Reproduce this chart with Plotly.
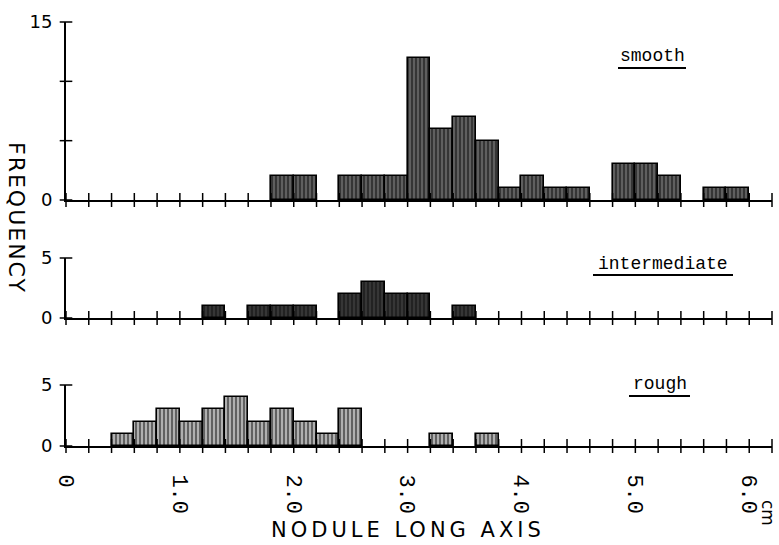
import plotly.graph_objects as go

# ---------------- data (bin left edges in cm, counts) ----------------
BIN_WIDTH = 0.2
smooth_left = [1.8, 2.0, 2.4, 2.6, 2.8, 3.0, 3.2, 3.4, 3.6, 3.8, 4.0, 4.2, 4.4, 4.8, 5.0, 5.2, 5.6, 5.8]
smooth_count = [2, 2, 2, 2, 2, 12, 6, 7, 5, 1, 2, 1, 1, 3, 3, 2, 1, 1]
inter_left = [1.2, 1.6, 1.8, 2.0, 2.4, 2.6, 2.8, 3.0, 3.4]
inter_count = [1, 1, 1, 1, 2, 3, 2, 2, 1]
rough_left = [0.4, 0.6, 0.8, 1.0, 1.2, 1.4, 1.6, 1.8, 2.0, 2.2, 2.4, 3.2, 3.6]
rough_count = [1, 2, 3, 2, 3, 4, 2, 3, 2, 1, 3, 1, 1]

x_label_vals = [0, 1, 2, 3, 4, 5, 6]
x_label_text = ["0", "1.0", "2.0", "3.0", "4.0", "5.0", "6.0"]
x_minor_ticks = [round(0.2 * i, 1) for i in range(0, 32)]
top_y_ticks = [0, 5, 10, 15]
small_y_ticks = [0, 5]

W, H = 779, 545
MONO = "Liberation Mono"
SANS = "DejaVu Sans"

fig = go.Figure()

panels = [
    ("x", "y", smooth_left, smooth_count, 0.6, "#6a6a6a", top_y_ticks),
    ("x2", "y2", inter_left, inter_count, 0.7, "#444444", small_y_ticks),
    ("x3", "y3", rough_left, rough_count, 0.45, "#b0b0b0", small_y_ticks),
]

for xa, ya, left, cnt, sol, bg, yt in panels:
    fig.add_trace(go.Bar(
        x=left, y=cnt, width=BIN_WIDTH, offset=0,
        xaxis=xa, yaxis=ya,
        marker=dict(color="white",
                    line=dict(color="black", width=1.6),
                    pattern=dict(shape="|", fgcolor="black", bgcolor=bg,
                                 size=4, solidity=sol)),
        showlegend=False, hoverinfo="skip",
    ))
    # crossing tick marks on the x axis
    fig.add_trace(go.Scatter(
        x=x_minor_ticks, y=[0] * len(x_minor_ticks), xaxis=xa, yaxis=ya,
        mode="markers", cliponaxis=False,
        marker=dict(symbol="line-ns", size=10, line=dict(color="black", width=1.5)),
        showlegend=False, hoverinfo="skip",
    ))
    # crossing tick marks on the y axis
    fig.add_trace(go.Scatter(
        x=[0] * len(yt), y=yt, xaxis=xa, yaxis=ya,
        mode="markers", cliponaxis=False,
        marker=dict(symbol="line-ew", size=9, line=dict(color="black", width=1.5)),
        showlegend=False, hoverinfo="skip",
    ))

xdom = [66 / W, 772 / W]
def ydom(p0, p1):
    return [1 - p0 / H, 1 - p1 / H]

axis_common = dict(showline=True, linecolor="black", linewidth=2, showgrid=False,
                   zeroline=False, ticks="", automargin=False)
ytickfont = dict(family=SANS, size=18, color="black")

fig.update_layout(
    width=W, height=H,
    margin=dict(l=0, r=0, t=0, b=0),
    paper_bgcolor="white", plot_bgcolor="white",
    bargap=0,
    xaxis=dict(domain=xdom, range=[0, 6.2], anchor="y", showticklabels=False, **axis_common),
    xaxis2=dict(domain=xdom, range=[0, 6.2], anchor="y2", showticklabels=False, **axis_common),
    xaxis3=dict(domain=xdom, range=[0, 6.2], anchor="y3",
                tickmode="array", tickvals=x_label_vals, ticktext=x_label_text,
                tickangle=90, ticklabelstandoff=22,
                tickfont=dict(family=MONO, size=22, color="black"), **axis_common),
    yaxis=dict(domain=ydom(200, 22), range=[0, 15], anchor="x",
               tickmode="array", tickvals=[0, 15], ticktext=["0", "15"],
               ticklabelstandoff=8, tickfont=ytickfont, **axis_common),
    yaxis2=dict(domain=ydom(318, 258), range=[0, 5], anchor="x2",
                tickmode="array", tickvals=[0, 5], ticktext=["0", "5"],
                ticklabelstandoff=8, tickfont=ytickfont, **axis_common),
    yaxis3=dict(domain=ydom(446, 385), range=[0, 5], anchor="x3",
                tickmode="array", tickvals=[0, 5], ticktext=["0", "5"],
                ticklabelstandoff=8, tickfont=ytickfont, **axis_common),
)

def ann(text, px, py, size, family, angle=0):
    fig.add_annotation(text=text, x=px / W, y=1 - py / H, xref="paper", yref="paper",
                       showarrow=False, textangle=angle, xanchor="center", yanchor="middle",
                       font=dict(family=family, size=size, color="black"))

ann("smooth", 652, 56, 18, MONO)
ann("intermediate", 663, 264, 18, MONO)
ann("rough", 660, 384, 18, MONO)
ann('<span style="letter-spacing:2px">FREQUENCY</span>', 17, 218, 22, SANS, angle=90)
ann('<span style="letter-spacing:4px">NODULE LONG AXIS</span>', 408, 530, 21, SANS)
ann("cm", 768, 513, 17, SANS, angle=90)

# underlines of the panel labels
for x0, x1, py in [(618, 686, 68), (593, 733, 275), (629, 690, 396)]:
    fig.add_shape(type="line", xref="paper", yref="paper",
                  x0=x0 / W, x1=x1 / W, y0=1 - py / H, y1=1 - py / H,
                  line=dict(color="black", width=2))

fig.write_html("out.html",
               config={"displayModeBar": False},
               post_script="document.body.style.margin='0px';"
                           "document.body.style.overflow='hidden';")
